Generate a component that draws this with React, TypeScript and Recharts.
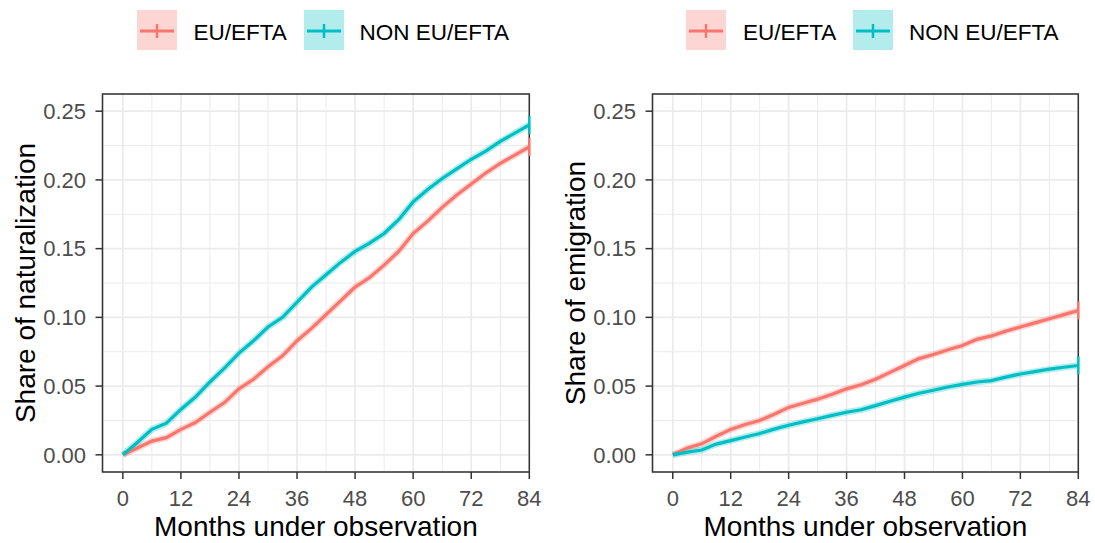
import React from 'react';
import {
  LineChart,
  Line,
  XAxis,
  YAxis,
  CartesianGrid,
  ReferenceArea
} from 'recharts';

const months = [0, 3, 6, 9, 12, 15, 18, 21, 24, 27, 30, 33, 36, 39, 42, 45, 48, 51, 54, 57, 60, 63, 66, 69, 72, 75, 78, 81, 84];

const naturEU = [0, 0.005, 0.01, 0.0125, 0.0185, 0.0235, 0.031, 0.038, 0.048, 0.055, 0.064, 0.072, 0.083, 0.092, 0.102, 0.112, 0.122, 0.129, 0.138, 0.148, 0.161, 0.17, 0.18, 0.189, 0.197, 0.205, 0.212, 0.218, 0.224];
const naturNonEU = [0, 0.009, 0.0185, 0.023, 0.033, 0.042, 0.053, 0.063, 0.074, 0.083, 0.093, 0.1, 0.111, 0.122, 0.131, 0.14, 0.148, 0.154, 0.161, 0.171, 0.184, 0.193, 0.201, 0.208, 0.215, 0.221, 0.228, 0.234, 0.24];

const emigEU = [0, 0.005, 0.008, 0.0135, 0.0185, 0.022, 0.025, 0.0295, 0.0345, 0.0375, 0.0405, 0.044, 0.048, 0.051, 0.055, 0.06, 0.065, 0.07, 0.073, 0.0765, 0.0795, 0.084, 0.0865, 0.09, 0.093, 0.096, 0.099, 0.102, 0.105];
const emigNonEU = [0, 0.002, 0.0035, 0.0078, 0.0103, 0.013, 0.0155, 0.0187, 0.0215, 0.024, 0.0262, 0.0287, 0.031, 0.0328, 0.0358, 0.039, 0.042, 0.0448, 0.047, 0.0493, 0.0513, 0.053, 0.054, 0.0565, 0.0588, 0.0605, 0.0623, 0.0637, 0.065];

const xTicks = [0, 12, 24, 36, 48, 60, 72, 84];
const xMinor = [6, 18, 30, 42, 54, 66, 78];
const yTicks = [0, 0.05, 0.1, 0.15, 0.2, 0.25];
const yMinor = [0.025, 0.075, 0.125, 0.175, 0.225];
const groups = ['EU/EFTA', 'NON EU/EFTA'];

const RED = '#F8766D';
const TEAL = '#00BFC4';
const FONT = '"Liberation Sans", Arial, sans-serif';

const endMark = (props: any) => {
  const { cx, cy, index, stroke, key } = props;
  if (index !== months.length - 1) return <g key={key} />;
  return <line key={key} x1={cx} x2={cx} y1={cy - 9} y2={cy + 9} stroke={stroke} strokeWidth={2.5} />;
};

const Panel = ({ eu, nonEu, title, width, right }: any) => {
  const data = months.map((m, i) => ({ m, eu: eu[i], non: nonEu[i] }));
  return (
    <LineChart width={width} height={543} data={data} margin={{ top: 94, right, bottom: 0, left: 0 }}>
      <CartesianGrid stroke="#EBEBEB" strokeWidth={1} horizontalValues={yMinor} verticalValues={xMinor} />
      <CartesianGrid stroke="#EBEBEB" strokeWidth={1.8} />
      <XAxis
        dataKey="m"
        type="number"
        domain={[-4.2, 84]}
        ticks={xTicks}
        axisLine={false}
        tickSize={7}
        tickMargin={11}
        tickLine={{ stroke: '#333333', strokeWidth: 1.5 }}
        tick={{ fill: '#4D4D4D', fontSize: 22, fontFamily: FONT }}
        height={71}
        label={{
          content: (p: any) => (
            <text
              x={p.viewBox.x + p.viewBox.width / 2}
              y={p.viewBox.y + 64}
              textAnchor="middle"
              fontSize={28}
              fontFamily={FONT}
              fill="#000"
            >
              Months under observation
            </text>
          )
        }}
      />
      <YAxis
        type="number"
        domain={[-0.0125, 0.2625]}
        ticks={yTicks}
        axisLine={false}
        width={102.5}
        tickSize={7}
        tickMargin={9.5}
        tickFormatter={(v: number) => v.toFixed(2)}
        tickLine={{ stroke: '#333333', strokeWidth: 1.5 }}
        tick={{ fill: '#4D4D4D', fontSize: 22, fontFamily: FONT }}
        label={{
          content: (p: any) => {
            const cy = p.viewBox.y + p.viewBox.height / 2;
            return (
              <text
                x={35}
                y={cy}
                transform={`rotate(-90, 35, ${cy})`}
                textAnchor="middle"
                fontSize={28}
                fontFamily={FONT}
                fill="#000"
              >
                {title}
              </text>
            );
          }
        }}
      />
      <Line type="linear" dataKey="eu" stroke={RED} strokeWidth={6.5} strokeOpacity={0.3} dot={false} activeDot={false} isAnimationActive={false} />
      <Line type="linear" dataKey="non" stroke={TEAL} strokeWidth={6.5} strokeOpacity={0.3} dot={false} activeDot={false} isAnimationActive={false} />
      <Line type="linear" dataKey="eu" name={groups[0]} stroke={RED} strokeWidth={3.2} dot={endMark} activeDot={false} isAnimationActive={false} />
      <Line type="linear" dataKey="non" name={groups[1]} stroke={TEAL} strokeWidth={3.2} dot={endMark} activeDot={false} isAnimationActive={false} />
      <ReferenceArea x1={-4.2} x2={84} y1={-0.0125} y2={0.2625} fill="none" stroke="#333333" strokeWidth={1.5} ifOverflow="visible" />
    </LineChart>
  );
};

const LegendKey = ({ x, color, fill }: any) => (
  <div style={{ position: 'absolute', left: x, top: 10, width: 40, height: 40, background: fill }}>
    <svg width={40} height={40}>
      <line x1={3} x2={37} y1={21} y2={21} stroke={color} strokeWidth={3} />
      <line x1={20} x2={20} y1={14} y2={28} stroke={color} strokeWidth={2.5} />
    </svg>
  </div>
);

const LegendText = ({ x, children }: any) => (
  <div style={{ position: 'absolute', left: x, top: 13, lineHeight: '40px', fontSize: 22.5, fontFamily: FONT, color: '#000', whiteSpace: 'nowrap' }}>
    {children}
  </div>
);

const TopLegend = ({ x }: any) => (
  <>
    <LegendKey x={x} color={RED} fill="#FDD6D3" />
    <LegendText x={x + 57}>{groups[0]}</LegendText>
    <LegendKey x={x + 167} color={TEAL} fill="#B3ECED" />
    <LegendText x={x + 223}>{groups[1]}</LegendText>
  </>
);

const App = () => {
  return (
    <div style={{ position: 'absolute', left: 0, top: 0, width: 1095, height: 543, background: '#fff', overflow: 'hidden' }}>
      <div style={{ position: 'absolute', left: 0, top: 0 }}>
        <Panel eu={naturEU} nonEu={naturNonEU} title="Share of naturalization" width={550} right={20.7} />
      </div>
      <div style={{ position: 'absolute', left: 550, top: 0 }}>
        <Panel eu={emigEU} nonEu={emigNonEU} title="Share of emigration" width={545} right={16.7} />
      </div>
      <TopLegend x={136.5} />
      <TopLegend x={686} />
    </div>
  );
};

export default App;
